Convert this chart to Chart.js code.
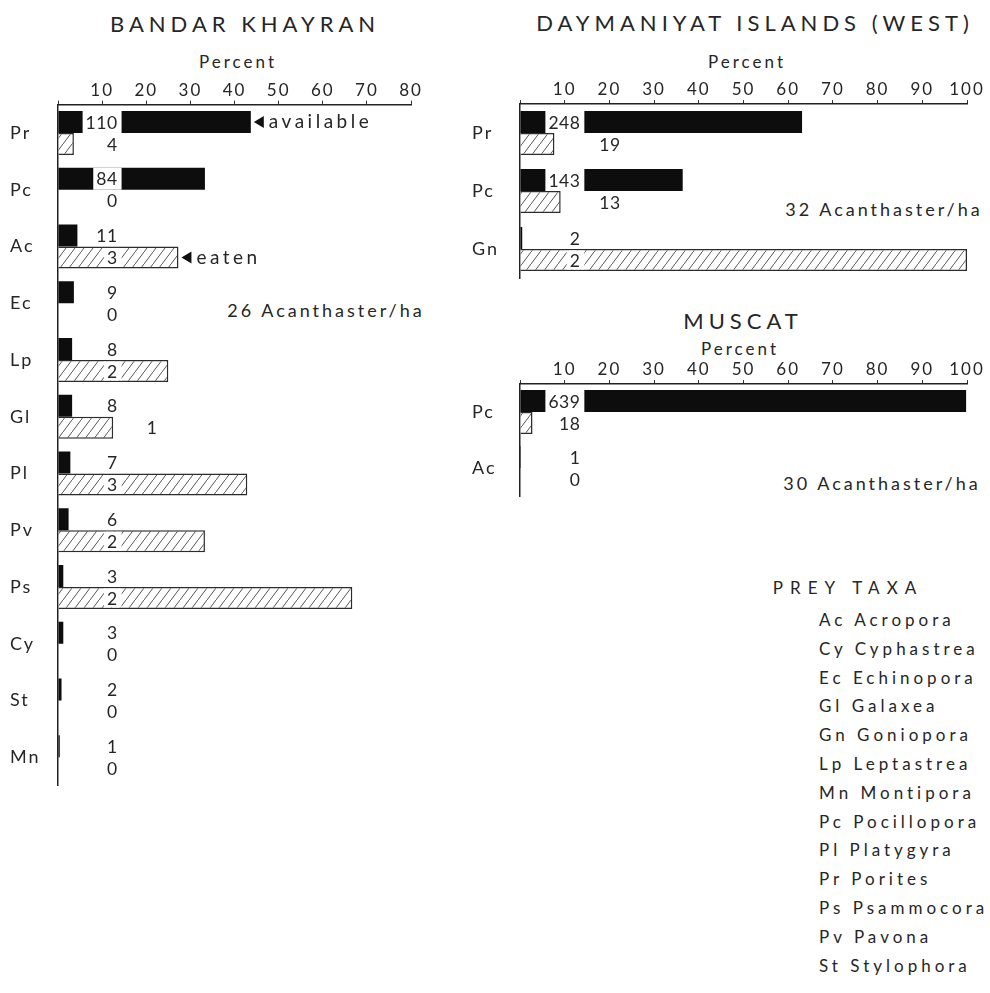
<!DOCTYPE html>
<html>
<head>
<meta charset="utf-8">
<script src="https://cdn.jsdelivr.net/npm/chart.js@4/dist/chart.umd.min.js"></script>
<style>
  body { margin: 0; width: 990px; height: 993px; background: #fff; position: relative; overflow: hidden;
         font-family: Lato, "DejaVu Sans", sans-serif; color: #262626; }
  .panel { position: absolute; }
  .txt { position: absolute; transform: translate(-50%, -50%); white-space: nowrap; }
  .head { font-size: 22px; letter-spacing: 5px; }
  .pct { font-size: 17px; letter-spacing: 3px; }
  .dens { font-size: 18px; letter-spacing: 3px; }
  .taxa { position: absolute; left: 819px; top: 606px; font-size: 17px; letter-spacing: 4px;
          line-height: 28.8px; white-space: nowrap; }
</style>
</head>
<body>

<div class="txt head" style="left:245px; top:23px">BANDAR KHAYRAN</div>
<div class="txt pct" style="left:238px; top:61px">Percent</div>
<div class="txt dens" style="left:326px; top:310px">26 Acanthaster/ha</div>

<div class="txt head" style="left:755px; top:22px">DAYMANIYAT ISLANDS (WEST)</div>
<div class="txt pct" style="left:747px; top:61px">Percent</div>
<div class="txt dens" style="left:884px; top:209px">32 Acanthaster/ha</div>

<div class="txt head" style="left:743px; top:320px">MUSCAT</div>
<div class="txt pct" style="left:740px; top:348px">Percent</div>
<div class="txt dens" style="left:882px; top:483px">30 Acanthaster/ha</div>

<div class="txt head" style="left:848px; top:587px; font-size:17px; letter-spacing:7px">PREY TAXA</div>
<div class="taxa" id="taxa"></div>

<div class="panel" style="left:0; top:60px; width:440px; height:740px"><canvas id="khayran"></canvas></div>
<div class="panel" style="left:450px; top:60px; width:540px; height:240px"><canvas id="daymaniyat"></canvas></div>
<div class="panel" style="left:450px; top:330px; width:540px; height:180px"><canvas id="muscat"></canvas></div>

<script>
// Bandar Khayran: percent of colonies available, percent of each taxon eaten, and raw counts
const khayranTaxa = ["Pr", "Pc", "Ac", "Ec", "Lp", "Gl", "Pl", "Pv", "Ps", "Cy", "St", "Mn"];
const khayranAvail = [43.7, 33.3, 4.4, 3.6, 3.2, 3.2, 2.8, 2.4, 1.2, 1.2, 0.8, 0.4];
const khayranEaten = [3.6, 0, 27.3, 0, 25, 12.5, 42.9, 33.3, 66.7, 0, 0, 0];
const khayranAvailN = [110, 84, 11, 9, 8, 8, 7, 6, 3, 3, 2, 1];
const khayranEatenN = [4, 0, 3, 0, 2, 1, 3, 2, 2, 0, 0, 0];

// Daymaniyat Islands (West)
const dayTaxa = ["Pr", "Pc", "Gn"];
const dayAvail = [63.1, 36.4, 0.5];
const dayEaten = [7.7, 9.1, 100];
const dayAvailN = [248, 143, 2];
const dayEatenN = [19, 13, 2];

// Muscat
const muscatTaxa = ["Pc", "Ac"];
const muscatAvail = [99.8, 0.2];
const muscatEaten = [2.8, 0];
const muscatAvailN = [639, 1];
const muscatEatenN = [18, 0];

const preyTaxa = [
  ["Ac", "Acropora"], ["Cy", "Cyphastrea"], ["Ec", "Echinopora"], ["Gl", "Galaxea"],
  ["Gn", "Goniopora"], ["Lp", "Leptastrea"], ["Mn", "Montipora"], ["Pc", "Pocillopora"],
  ["Pl", "Platygyra"], ["Pr", "Porites"], ["Ps", "Psammocora"], ["Pv", "Pavona"], ["St", "Stylophora"]
];

document.getElementById("taxa").innerHTML =
  preyTaxa.map(([code, name]) => `<div>${code} ${name}</div>`).join("");

Chart.defaults.font.family = "Lato, 'DejaVu Sans', sans-serif";
Chart.defaults.color = "#262626";

/* diagonal hatching for the "eaten" bars */
function makeHatch() {
  const c = document.createElement("canvas");
  c.width = 9; c.height = 12;
  const g = c.getContext("2d");
  g.fillStyle = "#fff";
  g.fillRect(0, 0, 9, 12);
  g.strokeStyle = "#555";
  g.lineWidth = 1;
  g.beginPath();
  g.moveTo(-1, 12 + 12 / 9);
  g.lineTo(10, -12 / 9);
  g.stroke();
  return g.createPattern(c, "repeat");
}
const hatch = makeHatch();

/* counts printed on the bars, plus the little arrow notes */
const countLabels = {
  id: "countLabels",
  beforeDraw(chart) {
    chart.ctx.letterSpacing = "2px";
  },
  afterDatasetsDraw(chart, args, opts) {
    const { ctx, scales: { x } } = chart;
    ctx.save();
    ctx.font = "17.5px Lato";
    ctx.letterSpacing = "0.5px";
    ctx.textBaseline = "middle";
    ctx.textAlign = "right";
    opts.counts.forEach((counts, di) => {
      const meta = chart.getDatasetMeta(di);
      counts.forEach((n, i) => {
        const bar = meta.data[i];
        const text = String(n);
        const w = ctx.measureText(text).width;
        let right = x.getPixelForValue(opts.at);
        if (bar.x > right - w - 7 && bar.x < right + 7) right = x.getPixelForValue(opts.shiftTo);
        if (bar.x > right - w - 3) {
          const inset = di === 1 ? 1.5 : 0;
          ctx.fillStyle = "#fff";
          ctx.fillRect(right - w - 3, bar.y - bar.height / 2 + inset, w + 7, bar.height - 2 * inset);
        }
        ctx.fillStyle = "#262626";
        ctx.fillText(text, right, bar.y + 1);
      });
    });

    ctx.font = "19px Lato";
    ctx.letterSpacing = "3.5px";
    ctx.textAlign = "left";
    (opts.notes || []).forEach(note => {
      const bar = chart.getDatasetMeta(note.dataset).data[note.index];
      const x0 = bar.x + 3, y0 = bar.y;
      ctx.fillStyle = "#111";
      ctx.beginPath();
      ctx.moveTo(x0, y0);
      ctx.lineTo(x0 + 10, y0 - 6);
      ctx.lineTo(x0 + 10, y0 + 6);
      ctx.closePath();
      ctx.fill();
      ctx.fillStyle = "#262626";
      ctx.fillText(note.text, x0 + 15, y0);
    });
    ctx.restore();
  }
};

function makePanel(id, taxa, avail, eaten, availN, eatenN, cfg) {
  const share = 44 / cfg.rowHeight;
  return new Chart(document.getElementById(id), {
    type: "bar",
    data: {
      labels: taxa,
      datasets: [
        { label: "available", data: avail, backgroundColor: "#0d0d0d", borderWidth: 0,
          categoryPercentage: share, barPercentage: 1 },
        { label: "eaten", data: eaten, backgroundColor: hatch, borderColor: "#2b2b2b", borderWidth: 1.5,
          categoryPercentage: share, barPercentage: 1 }
      ]
    },
    options: {
      indexAxis: "y",
      responsive: true,
      maintainAspectRatio: false,
      animation: false,
      devicePixelRatio: 1,
      layout: { padding: cfg.padding },
      plugins: {
        legend: { display: false },
        tooltip: { enabled: false },
        countLabels: { counts: [availN, eatenN], at: 13.5, shiftTo: 22.5, notes: cfg.notes }
      },
      scales: {
        x: {
          position: "top",
          min: 0,
          max: cfg.max,
          afterFit: s => { s.height = cfg.axisHeight; },
          ticks: {
            stepSize: 10, padding: 0, autoSkip: false, maxRotation: 0,
            font: { size: 17 },
            callback: v => (v === 0 ? "" : v)
          },
          grid: { drawOnChartArea: false, tickLength: 4, color: "#333" },
          border: { color: "#222", width: 1.5 }
        },
        y: {
          afterFit: s => { s.width = cfg.axisWidth; },
          ticks: { crossAlign: "far", font: { size: 18 } },
          grid: { display: false },
          border: { color: "#222", width: 1.5 }
        }
      }
    },
    plugins: [countLabels]
  });
}

makePanel("khayran", khayranTaxa, khayranAvail, khayranEaten, khayranAvailN, khayranEatenN, {
  max: 80, rowHeight: 56.75, axisHeight: 44.6, axisWidth: 48,
  padding: { left: 10, right: 29, top: 0, bottom: 14.4 },
  notes: [{ dataset: 0, index: 0, text: "available" }, { dataset: 1, index: 2, text: "eaten" }]
});

makePanel("daymaniyat", dayTaxa, dayAvail, dayEaten, dayAvailN, dayEatenN, {
  max: 100, rowHeight: 58, axisHeight: 44, axisWidth: 48,
  padding: { left: 22, right: 23, top: 0, bottom: 22 }
});

makePanel("muscat", muscatTaxa, muscatAvail, muscatEaten, muscatAvailN, muscatEatenN, {
  max: 100, rowHeight: 56, axisHeight: 54, axisWidth: 48,
  padding: { left: 22, right: 23, top: 0, bottom: 14 }
});
</script>
</body>
</html>
